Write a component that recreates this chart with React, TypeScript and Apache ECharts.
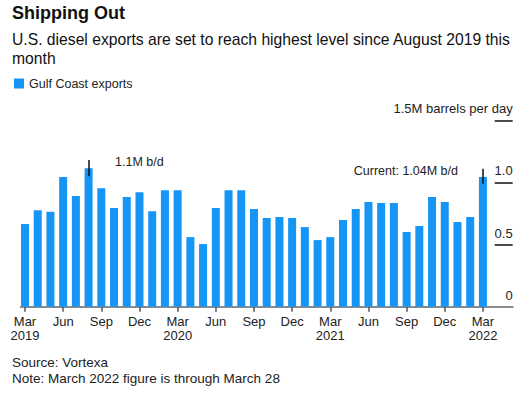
import React, { useEffect, useRef } from "react";
import * as echarts from "echarts";

const months = [
  "Mar 2019","Apr 2019","May 2019","Jun 2019","Jul 2019","Aug 2019","Sep 2019","Oct 2019","Nov 2019","Dec 2019",
  "Jan 2020","Feb 2020","Mar 2020","Apr 2020","May 2020","Jun 2020","Jul 2020","Aug 2020","Sep 2020","Oct 2020","Nov 2020","Dec 2020",
  "Jan 2021","Feb 2021","Mar 2021","Apr 2021","May 2021","Jun 2021","Jul 2021","Aug 2021","Sep 2021","Oct 2021","Nov 2021","Dec 2021",
  "Jan 2022","Feb 2022","Mar 2022",
];
const gulfCoastExports = [
  0.665, 0.777, 0.764, 1.043, 0.89, 1.115, 0.954, 0.794, 0.882, 0.922,
  0.769, 0.938, 0.938, 0.56, 0.504, 0.794, 0.938, 0.938, 0.786, 0.713, 0.721, 0.713,
  0.641, 0.536, 0.56, 0.697, 0.786, 0.842, 0.834, 0.834, 0.601, 0.649, 0.882, 0.842,
  0.681, 0.721, 1.043,
];
const xTickIndices = [0, 3, 6, 9, 12, 15, 18, 21, 24, 27, 30, 33, 36];
const xTickLabels = [
  "Mar\n2019","Jun","Sep","Dec","Mar\n2020","Jun","Sep","Dec","Mar\n2021","Jun","Sep","Dec","Mar\n2022",
];
const yTicks = [0, 0.5, 1.0, 1.5];
const yTickLabels = ["0", "0.5", "1.0", "1.5M barrels per day"];
const yGridTicks = [0.5, 1.0, 1.5];
const annotations = [
  { index: 5, low: 1.05, high: 1.18, text: "1.1M b/d" },
  { index: 36, low: 0.99, high: 1.11, text: "Current: 1.04M b/d" },
];

const FONT = "'Liberation Sans', Arial, Helvetica, sans-serif";
const BLUE = "#1596f6";

export default function App() {
  const ref = useRef<HTMLDivElement>(null);
  useEffect(() => {
    document.body.style.margin = "0";
    const chart = echarts.init(ref.current!, null, { renderer: "svg" });
    chart.setOption({
      animation: false,
      textStyle: { fontFamily: FONT },
      grid: { left: 20.7, right: 13.3, top: 120.3, bottom: 89.3, containLabel: false },
      legend: {
        show: true,
        left: 14,
        top: 77,
        padding: 0,
        itemWidth: 10,
        itemHeight: 10,
        itemGap: 10,
        icon: "rect",
        textStyle: { fontSize: 12.5, color: "#222", fontFamily: FONT },
        data: ["Gulf Coast exports"],
      },
      xAxis: {
        type: "value",
        min: -0.338,
        max: 38.34,
        splitLine: { show: false },
        axisLine: { show: true, onZero: false, lineStyle: { color: "#8a8a8a", width: 2 } },
        axisTick: {
          show: true,
          customValues: xTickIndices,
          length: 5,
          lineStyle: { color: "#555", width: 1.5 },
        },
        axisLabel: {
          customValues: xTickIndices,
          formatter: (v: number) => xTickLabels[xTickIndices.indexOf(Math.round(v))] ?? "",
          fontSize: 13,
          lineHeight: 14,
          color: "#222",
          margin: 8,
          fontFamily: FONT,
        },
      },
      yAxis: {
        type: "value",
        position: "right",
        min: 0,
        max: 1.5,
        interval: 0.5,
        splitLine: { show: false },
        axisLine: { show: false, onZero: false },
        axisTick: {
          show: true,
          inside: true,
          length: 18,
          customValues: yGridTicks,
          lineStyle: { color: "#111", width: 1.5 },
        },
        axisLabel: {
          inside: true,
          margin: 0,
          align: "right",
          verticalAlign: "bottom",
          padding: [0, 0, 5, 0],
          fontSize: 13,
          color: "#222",
          fontFamily: FONT,
          formatter: (v: number) => yTickLabels[yTicks.indexOf(v)] ?? "",
        },
      },
      series: [
        {
          name: "Gulf Coast exports",
          type: "bar",
          barWidth: 8,
          itemStyle: { color: BLUE },
          data: gulfCoastExports.map((v, i) => [i, v]),
          markLine: {
            silent: true,
            symbol: "none",
            label: { show: false },
            lineStyle: { color: "#111", width: 1.5, type: "solid" },
            data: annotations.map((a) => [
              { coord: [a.index, a.low] },
              { coord: [a.index, a.high] },
            ]),
          },
        },
      ],
      graphic: [
        {
          type: "text",
          left: 12,
          top: 4,
          style: { text: "Shipping Out", font: `bold 18px ${FONT}`, fill: "#111" },
        },
        {
          type: "text",
          left: 12,
          top: 30,
          style: {
            text: "U.S. diesel exports are set to reach highest level since August 2019 this\nmonth",
            font: `15.7px ${FONT}`,
            lineHeight: 19,
            fill: "#111",
          },
        },
        {
          type: "text",
          left: 115,
          top: 155,
          style: { text: annotations[0].text, font: `12.5px ${FONT}`, fill: "#222" },
        },
        {
          type: "text",
          right: 68,
          top: 164,
          style: { text: annotations[1].text, font: `12.5px ${FONT}`, fill: "#222" },
        },
        {
          type: "text",
          left: 12,
          top: 354,
          style: {
            text: "Source: Vortexa\nNote: March 2022 figure is through March 28",
            font: `13.5px ${FONT}`,
            lineHeight: 16,
            fill: "#222",
          },
        },
      ],
    });
    return () => chart.dispose();
  }, []);
  return <div ref={ref} style={{ width: 526, height: 396 }} />;
}
